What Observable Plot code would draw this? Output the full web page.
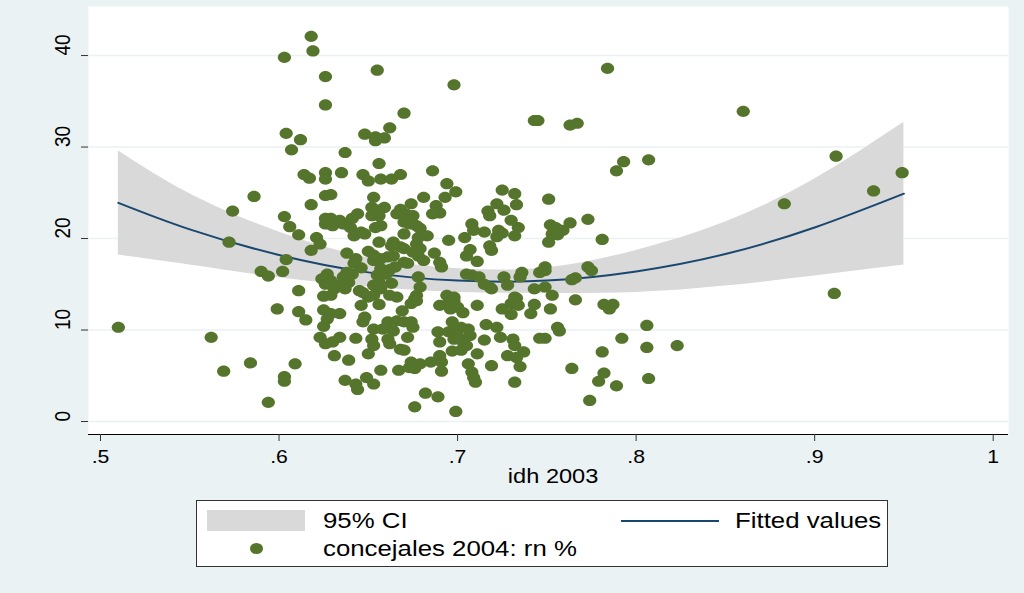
<!DOCTYPE html>
<html><head><meta charset="utf-8">
<script src="https://cdn.jsdelivr.net/npm/d3@7"></script>
<script src="https://cdn.jsdelivr.net/npm/@observablehq/plot@0.6"></script>
<style>
html,body{margin:0;padding:0;}
body{width:1024px;height:593px;background:#eaf2f3;font-family:"Liberation Sans",Arial,sans-serif;position:relative;overflow:hidden;}
#chart{position:absolute;left:0;top:0;}
#legend{position:absolute;left:196px;top:500px;width:692px;height:67px;background:#fff;border:1px solid #333;box-sizing:border-box;font-size:21.5px;color:#000;}
#legend .it{position:absolute;white-space:nowrap;line-height:24px;}
#legend .tx{transform:scaleX(1.2);transform-origin:0 50%;}
</style></head>
<body>
<div id="chart"></div>
<div id="legend">
  <div class="it" style="left:10px;top:9px;width:98px;height:21px;background:#d9d9d9"></div>
  <div class="it tx" style="left:126px;top:8px;">95% CI</div>
  <div class="it" style="left:424px;top:19px;width:98px;height:2px;background:#1a476f"></div>
  <div class="it tx" style="left:538px;top:8px;">Fitted values</div>
  <div class="it" style="left:53px;top:42px;width:13px;height:11px;border-radius:50%;background:#55742c"></div>
  <div class="it tx" style="left:126px;top:36px;">concejales 2004: rn %</div>
</div>
<script>
const xTicks = [0.5, 0.6, 0.7, 0.8, 0.9, 1];
const xTickLabels = [".5", ".6", ".7", ".8", ".9", "1"];
const yTicks = [0, 10, 20, 30, 40];

const fitX = [0.51, 0.55, 0.60, 0.65, 0.70, 0.75, 0.80, 0.85, 0.90, 0.95];
const fitY = [23.9, 21.0, 18.2, 16.3, 15.4, 15.4, 16.4, 18.3, 21.2, 24.9];
const ciUpper = [29.6, 24.9, 20.7, 17.9, 16.7, 16.8, 18.7, 21.8, 26.5, 32.7];
const ciLower = [18.2, 17.1, 15.7, 14.7, 14.1, 14.0, 14.1, 14.8, 15.9, 17.1];

// [idh 2003, concejales 2004: rn %]
const scatterPoints = [
[.618,42.1],[.619,40.5],[.603,39.8],[.626,37.7],[.626,34.6],[.604,31.5],[.612,30.8],[.607,29.7],
[.655,38.4],[.698,36.8],[.743,32.9],[.745,32.9],[.670,33.7],[.662,32.1],[.648,31.4],[.654,31.1],[.654,30.7],[.659,31.0],[.637,29.4],[.656,28.2],
[.784,38.6],[.763,32.4],[.767,32.6],[.860,33.9],[.793,28.4],[.807,28.6],[.912,29.0],
[.586,24.6],[.574,23.0],[.572,19.6],[.603,22.4],[.606,21.3],[.611,20.4],[.621,20.1],[.618,23.7],[.614,27.0],[.617,26.6],[.626,27.2],[.626,26.5],
[.618,18.7],[.604,17.7],[.590,16.4],[.594,15.9],[.602,16.4],[.611,14.3],[.624,15.6],[.625,13.7],[.626,24.7],[.626,22.2],[.626,21.6],
[.510,10.3],[.562,9.2],[.569,5.5],[.584,6.4],[.594,2.1],[.603,4.9],[.603,4.4],[.609,6.3],[.599,12.3],[.611,12.0],[.615,11.1],[.625,12.2],[.625,10.4],
[.753,13.8],[.766,13.3],[.752,12.3],[.782,12.8],[.787,12.8],[.785,12.3],[.806,10.5],[.756,10.3],[.757,9.9],[.749,9.1],[.792,9.1],[.781,7.6],[.806,8.1],[.823,8.3],
[.764,5.8],[.782,5.3],[.779,4.4],[.789,3.9],[.807,4.7],[.774,2.3],
[.911,14.0],[.883,23.8],[.933,25.2],[.949,27.2],
[.789,27.4],[.751,24.3],[.773,22.1],[.763,21.7],[.752,21.5],[.755,21.2],[.759,20.9],[.753,20.5],[.756,20.4],[.751,19.6],[.781,19.9],
[.749,16.9],[.749,16.5],[.773,16.9],[.775,16.5],[.766,15.7],[.764,15.5],[.749,14.7],
[.635,27.2],[.647,27.0],[.650,26.3],[.657,26.5],[.663,26.5],[.668,27.0],[.686,27.4],[.694,26.0],[.699,25.1],[.693,24.5],[.681,24.5],
[.725,25.3],[.732,24.9],[.733,23.7],[.722,23.8],[.717,23.0],[.718,22.5],[.726,23.1],[.730,22.0],[.734,21.2],[.732,20.3],[.723,20.9],[.725,20.6],[.722,20.2],
[.715,20.7],[.708,21.6],[.709,20.9],[.704,20.1],[.718,19.2],[.719,18.7],[.707,18.8],[.705,18.1],[.711,17.5],[.695,19.8],[.688,23.6],[.690,22.8],[.686,22.7],
[.674,23.8],[.668,23.2],[.666,22.7],[.671,22.7],[.675,22.5],[.670,21.8],[.673,21.6],[.677,21.4],[.679,21.1],[.683,20.3],[.678,20.1],[.677,19.4],[.670,20.5],
[.679,18.9],[.675,18.5],[.678,18.1],[.681,17.6],[.687,18.4],[.690,17.4],[.691,16.9],[.670,18.9],[.663,19.2],[.668,19.1],[.664,18.1],[.661,18.0],[.657,17.8],
[.653,17.6],[.650,18.6],[.653,18.2],[.656,19.6],[.670,17.4],[.672,17.3],[.665,16.9],[.662,16.6],[.660,16.1],[.657,16.7],[.655,16.0],[.656,15.2],[.653,14.9],
[.657,14.5],[.663,15.1],[.678,15.8],[.679,14.7],[.646,16.8],[.643,17.8],[.642,17.3],[.638,18.4],[.641,16.1],[.638,16.3],[.636,15.8],[.639,15.2],[.634,14.9],
[.631,14.5],[.637,14.5],[.627,16.1],[.629,15.4],[.626,15.0],[.623,19.4],[.629,22.2],[.634,22.0],[.630,21.4],[.636,21.6],[.640,21.2],[.644,22.7],[.641,22.2],
[.642,20.3],[.646,20.7],[.648,20.5],[.653,24.5],[.652,23.4],[.655,23.1],[.659,23.4],[.652,22.5],[.656,22.5],[.654,21.2],[.657,21.4],[.664,19.6],[.629,24.8],
[.746,16.3],[.736,16.3],[.735,15.8],[.726,15.8],[.728,14.9],[.705,16.1],[.708,16.0],[.712,15.8],[.715,15.0],[.718,14.7],[.719,14.5],[.743,14.5],
[.732,13.6],[.733,13.5],[.694,13.8],[.698,13.6],[.677,13.8],[.629,13.8],[.647,14.1],[.650,13.6],[.653,13.8],[.645,14.3],[.662,13.8],[.666,13.6],
[.676,13.4],[.674,12.9],[.677,13.2],[.690,12.7],[.695,13.0],[.698,13.2],[.700,12.5],[.696,12.3],[.711,12.7],[.703,11.9],[.725,12.3],[.730,12.9],[.732,13.2],
[.734,12.7],[.730,11.7],[.743,12.8],[.741,11.8],[.629,11.8],[.634,11.8],[.627,11.2],[.646,12.7],[.648,11.4],[.647,10.9],[.656,12.8],[.669,12.1],
[.661,10.9],[.666,11.0],[.670,10.9],[.674,10.9],[.653,10.1],[.658,10.1],[.664,9.9],[.675,10.3],[.652,9.0],[.661,9.0],[.672,9.2],[.662,8.5],[.668,7.9],
[.670,7.8],[.653,8.3],[.650,7.4],[.634,9.2],[.630,8.7],[.643,9.1],[.631,7.2],[.639,6.7],[.657,5.6],[.637,4.5],[.643,4.1],[.644,3.5],[.649,4.8],[.653,4.1],
[.667,5.6],[.674,6.5],[.673,5.9],[.676,5.8],[.679,6.3],[.685,6.5],[.690,7.2],[.691,6.5],[.691,5.5],[.682,3.1],[.689,2.7],[.676,1.6],[.699,1.1],
[.697,10.9],[.698,10.1],[.702,10.3],[.706,10.1],[.707,9.4],[.698,9.0],[.702,8.9],[.705,8.3],[.697,7.7],[.702,7.8],[.689,9.8],[.690,8.7],[.695,9.8],[.700,9.4],
[.711,7.4],[.706,6.3],[.708,5.4],[.709,4.8],[.710,4.3],[.716,10.6],[.722,10.3],[.724,9.2],[.731,9.0],[.732,8.3],[.728,7.2],[.733,7.0],[.737,7.6],[.735,6.0],
[.719,6.1],[.732,4.3],[.715,8.9],[.746,9.1],[.623,9.2],[.626,8.5]
];

const fitTable = fitX.map((x, i) => ({x, y: fitY[i], lo: ciLower[i], hi: ciUpper[i]}));

// slightly wide ellipse marker, as in the reference
const ellipseSymbol = {
  draw(ctx) {
    const rx = 6.6, ry = 5.6, k = 0.5523;
    ctx.moveTo(rx, 0);
    ctx.bezierCurveTo(rx, ry * k, rx * k, ry, 0, ry);
    ctx.bezierCurveTo(-rx * k, ry, -rx, ry * k, -rx, 0);
    ctx.bezierCurveTo(-rx, -ry * k, -rx * k, -ry, 0, -ry);
    ctx.bezierCurveTo(rx * k, -ry, rx, -ry * k, rx, 0);
    ctx.closePath();
  }
};

const chart = Plot.plot({
  width: 1024,
  height: 500,
  marginLeft: 88,
  marginRight: 16,
  marginTop: 6,
  marginBottom: 66,
  style: {fontFamily: "'Liberation Sans', Arial, sans-serif", fontSize: "18px", background: "transparent", color: "#000"},
  x: {domain: [0.49328, 1.00857]},
  y: {domain: [-1.42, 45.36]},
  marks: [
    Plot.frame({fill: "white", stroke: null}),
    Plot.ruleY(yTicks, {stroke: "#eaf2f3", strokeWidth: 1.6}),
    Plot.areaY(fitTable, {x: "x", y1: "lo", y2: "hi", fill: "#d9d9d9", curve: "natural"}),
    Plot.line(fitTable, {x: "x", y: "y", stroke: "#1a476f", strokeWidth: 2, curve: "natural"}),
    Plot.dot(scatterPoints, {x: d => d[0], y: d => d[1], symbol: ellipseSymbol, r: 6, fill: "#55742c", stroke: null}),
    Plot.ruleY([-1.42], {stroke: "#000", strokeWidth: 1.2}),
    Plot.axisX(xTicks, {tickSize: 7, tickPadding: 9, fontSize: 18, stroke: "#333", tickFormat: d => xTickLabels[xTicks.indexOf(d)], label: null}),
    Plot.axisY(yTicks, {tickSize: 7, tickFormat: () => "", label: null, stroke: "#333"}),
    Plot.text(yTicks, {y: d => d, text: d => String(d), frameAnchor: "left", dx: -26, rotate: -90, fontSize: 19, fill: "#000"}),
    Plot.text(["idh 2003"], {x: 0.7535, frameAnchor: "bottom", dy: 48, fontSize: 20, fill: "#000"})
  ]
});
document.getElementById("chart").appendChild(chart);

// widen glyphs horizontally (the reference image is horizontally stretched)
const S = 1.18;
chart.querySelectorAll("text").forEach(el => {
  if (!el.textContent) return;
  const b = el.getBBox();
  const t = el.getAttribute("transform") || "";
  if (t.includes("rotate")) {
    const cy = b.y + b.height / 2;
    el.setAttribute("transform", `${t} translate(0,${cy}) scale(1,${S}) translate(0,${-cy})`);
  } else {
    const cx = b.x + b.width / 2;
    el.setAttribute("transform", `${t} translate(${cx},0) scale(${S},1) translate(${-cx},0)`);
  }
});
</script>
</body></html>
